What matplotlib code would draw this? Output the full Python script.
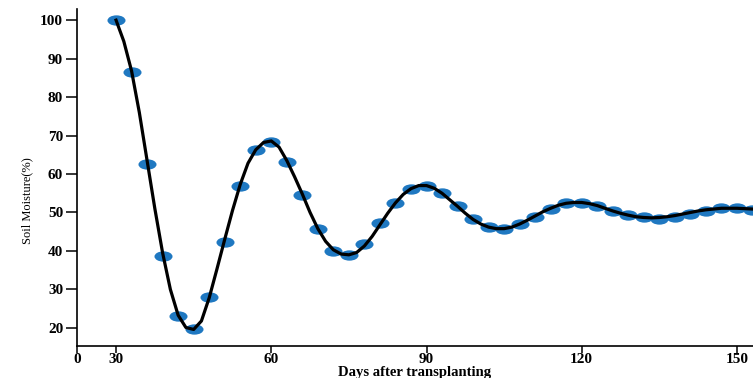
import numpy as np
import matplotlib.pyplot as plt
from matplotlib.path import Path
from matplotlib.transforms import Affine2D

# Measured points: days after transplanting and soil moisture (%)
days = np.arange(30, 154, 3)
moisture = np.array([
    100.0, 86.5, 62.6, 38.7, 23.1, 19.7, 28.0, 42.3, 56.9, 66.2,
    68.3, 63.1, 54.5, 45.7, 40.0, 39.0, 41.8, 47.3, 52.5, 56.1,
    57.0, 55.0, 51.7, 48.2, 46.2, 45.7, 47.0, 48.9, 50.9, 52.4,
    52.5, 51.7, 50.4, 49.4, 48.7, 48.4, 48.8, 49.6, 50.4, 51.1,
    51.2, 50.6,
])

# Fitted curve every 1.5 days
curve_days = np.arange(30, 153.1, 1.5)
curve_vals = np.array([
    100.0, 94.5, 86.8, 76.0, 63.5, 51.0, 39.5, 30.0, 23.3, 20.1,
    19.6, 21.8, 27.8, 35.3, 43.0, 50.5, 57.3, 62.8, 66.3, 68.2,
    68.6, 67.0, 63.5, 59.3, 54.8, 50.0, 45.8, 42.5, 40.3, 39.2,
    39.0, 39.6, 41.3, 43.8, 46.8, 49.8, 52.5, 54.7, 56.2, 57.0,
    57.0, 56.3, 55.0, 53.3, 51.6, 49.8, 48.2, 47.0, 46.2, 45.8,
    45.8, 46.2, 47.0, 48.0, 49.1, 50.2, 51.1, 51.9, 52.4, 52.6,
    52.6, 52.3, 51.8, 51.1, 50.4, 49.8, 49.3, 48.9, 48.7, 48.6,
    48.7, 48.9, 49.2, 49.6, 50.0, 50.4, 50.7, 50.9, 51.1, 51.1,
    51.1, 51.0, 50.9,
])

x_start = 22.46
xticks = [x_start, 30, 60, 90, 120, 150]
xtick_labels = ["0", "30", "60", "90", "120", "150"]
yticks = [20, 30, 40, 50, 60, 70, 80, 90, 100]

# wide oval marker (the source image is stretched sideways)
oval = Path.unit_circle().transformed(Affine2D().scale(1.75, 1.0))

fig = plt.figure(figsize=(7.53, 3.78), dpi=100)
ax = fig.add_axes([0.1023, 0.0847, 0.8977, 0.8915])

ax.plot(days, moisture, linestyle="none", marker=oval, markersize=13,
        color="#1f78c1", markeredgewidth=0, zorder=2)
ax.plot(curve_days, curve_vals, color="black", linewidth=2.3, zorder=3,
        solid_joinstyle="round")

ax.set_xlim(x_start, 153.1)
ax.set_ylim(15.3, 102.9)
ax.set_xticks(xticks)
ax.set_xticklabels(xtick_labels)
ax.set_yticks(yticks)

for s in ["top", "right"]:
    ax.spines[s].set_visible(False)
for s in ["left", "bottom"]:
    ax.spines[s].set_linewidth(1.2)

ax.tick_params(axis="y", length=8, width=1.1, pad=2)
ax.tick_params(axis="x", length=5, width=1.1, pad=0)
for lab in ax.get_xticklabels() + ax.get_yticklabels():
    lab.set_fontfamily("Liberation Serif")
    lab.set_fontweight("bold")
    lab.set_fontsize(11)

ax.set_xlabel("Days after transplanting", fontfamily="Liberation Serif",
              fontweight="bold", fontsize=10.5, labelpad=0)
ax.set_ylabel("Soil Moisture(%)", fontfamily="Liberation Serif",
              fontsize=9, labelpad=3)
ax.yaxis.set_label_coords(-0.065, 0.43)

fig.savefig("out.png", dpi=100)
